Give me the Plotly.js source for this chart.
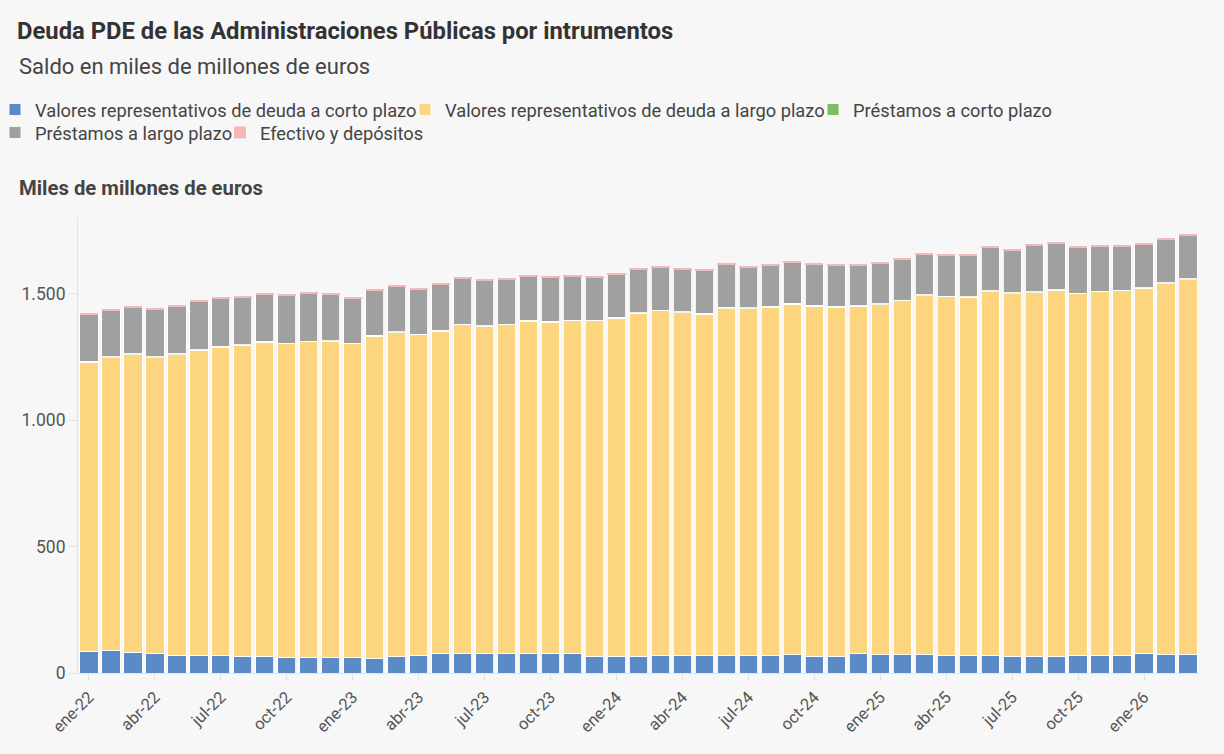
<!DOCTYPE html>
<html>
<head>
<meta charset="utf-8">
<script src="https://cdn.plot.ly/plotly-3.0.1.min.js"></script>
<style>
  html, body { margin: 0; padding: 0; background: #f7f7f7; }
  #chart { width: 1224px; height: 754px; }
</style>
</head>
<body>
<div id="chart"></div>
<script>
// Categories (monthly, ene-22 .. mar-26)
const months = [
  'ene-22','feb-22','mar-22','abr-22','may-22','jun-22','jul-22','ago-22','sep-22','oct-22','nov-22','dic-22',
  'ene-23','feb-23','mar-23','abr-23','may-23','jun-23','jul-23','ago-23','sep-23','oct-23','nov-23','dic-23',
  'ene-24','feb-24','mar-24','abr-24','may-24','jun-24','jul-24','ago-24','sep-24','oct-24','nov-24','dic-24',
  'ene-25','feb-25','mar-25','abr-25','may-25','jun-25','jul-25','ago-25','sep-25','oct-25','nov-25','dic-25',
  'ene-26','feb-26','mar-26'
];
const tickLabels = ['ene-22','abr-22','jul-22','oct-22','ene-23','abr-23','jul-23','oct-23','ene-24','abr-24',
  'jul-24','oct-24','ene-25','abr-25','jul-25','oct-25','ene-26'];
const yTicks = [0, 500, 1000, 1500];

// Valores representativos de deuda a corto plazo
const valoresCorto = [86,90,82,77,71,70,69,67,66,63,62,61,60,57,65,71,77,77,77,77,77,79,77,67,67,67,69,69,69,69,
  69,69,72,66,66,77,73,73,74,71,71,71,66,66,65,70,70,71,77,74,74];
// Valores representativos de deuda a largo plazo
const valoresLargo = [1144,1158,1177,1171,1188,1206,1220,1229,1243,1239,1248,1251,1242,1276,1282,1267,1275,1300,
  1294,1300,1315,1309,1316,1326,1337,1356,1364,1357,1351,1372,1372,1378,1387,1385,1381,1373,1384,1399,1419,1417,
  1415,1438,1435,1439,1449,1430,1438,1441,1445,1466,1482];
// Préstamos a corto plazo
const prestamosCorto = [3,3,3,3,3,3,3,3,3,3,3,3,3,3,3,3,3,3,3,3,3,3,3,3,3,3,3,3,3,5,3,3,3,3,3,3,3,3,3,3,3,3,3,3,3,
  3,3,3,3,3,3];
// Préstamos a largo plazo
const prestamosLargo = [184,184,185,188,189,192,189,187,185,187,187,181,178,177,179,177,181,182,177,177,175,172,171,
  170,168,169,168,167,168,170,162,162,163,163,162,158,160,161,161,161,163,170,166,182,182,180,177,173,171,171,170];
// Efectivo y depósitos
const efectivo = [5,5,5,5,5,5,5,5,5,5,5,5,5,5,5,5,5,5,5,5,5,5,5,5,5,5,5,5,5,5,5,5,5,5,5,5,5,5,5,5,5,5,5,5,5,5,5,5,
  5,5,5];

const seriesNames = ['Valores representativos de deuda a corto plazo','Valores representativos de deuda a largo plazo',
  'Préstamos a corto plazo','Préstamos a largo plazo','Efectivo y depósitos'];
const seriesValues = [valoresCorto, valoresLargo, prestamosCorto, prestamosLargo, efectivo];
const seriesColors = ['#5b8bc7','#fcd57e','#7cbf5f','#a0a0a0','#f4b8b8'];
const seriesLegend = ['legend','legend2','legend3','legend4','legend5'];
const seriesLineWidth = [1, 1, 1, 1, 0];

const traces = seriesValues.map((vals, i) => ({
  type: 'bar',
  name: seriesNames[i],
  legend: seriesLegend[i],
  x: months,
  y: vals,
  marker: { color: seriesColors[i], line: { color: 'rgba(255,255,255,0.85)', width: seriesLineWidth[i] } },
  hoverinfo: 'x+y+name'
}));

const FONT = 'Roboto, "Noto Sans", Arial, sans-serif';
const PL = 78, PT = 218, PW = 1121, PH = 455.3;
const px = v => (v - PL) / PW;        // page x -> paper x
const py = v => 1 + (PT - v) / PH;    // page y -> paper y

function legendBox(xPage, yTop) {
  return {
    orientation: 'h',
    xref: 'paper', yref: 'paper',
    x: px(xPage), xanchor: 'left',
    y: py(yTop), yanchor: 'top',
    font: { family: FONT, size: 18.3, color: '#444' },
    itemclick: false,
    itemdoubleclick: false,
    traceorder: 'normal',
    itemwidth: 30,
    bgcolor: 'rgba(0,0,0,0)'
  };
}

const layout = {
  width: 1224,
  height: 754,
  paper_bgcolor: '#f7f7f7',
  plot_bgcolor: '#f7f7f7',
  font: { family: FONT, color: '#444' },
  barmode: 'stack',
  bargap: 0.17,
  margin: { l: PL, r: 25, t: PT, b: 81, pad: 0, autoexpand: false },
  title: {
    text: '<b>Deuda PDE de las Administraciones Públicas por intrumentos</b>',
    font: { family: FONT, size: 23.8, color: '#333' },
    x: 17 / 1224, xref: 'container', xanchor: 'left',
    y: 1 - 31 / 754, yref: 'container', yanchor: 'middle'
  },
  annotations: [
    {
      text: 'Saldo en miles de millones de euros',
      xref: 'paper', yref: 'paper',
      x: px(17), xanchor: 'left',
      y: py(66), yanchor: 'middle',
      showarrow: false,
      font: { family: FONT, size: 22, color: '#444' }
    },
    {
      text: '<b>Miles de millones de euros</b>',
      xref: 'paper', yref: 'paper',
      x: px(17), xanchor: 'left',
      y: py(188), yanchor: 'middle',
      showarrow: false,
      font: { family: FONT, size: 20.3, color: '#444' }
    }
  ],
  legend: legendBox(-5, 91),
  legend2: legendBox(405, 91),
  legend3: legendBox(813, 91),
  legend4: legendBox(-5, 114),
  legend5: legendBox(220, 114),
  xaxis: {
    type: 'category',
    tickmode: 'array',
    tickvals: tickLabels,
    ticktext: tickLabels,
    tickangle: -45,
    ticks: 'outside',
    ticklen: 7,
    tickcolor: '#e2e2e2',
    showline: true,
    linecolor: '#e6e6e6',
    showgrid: false,
    zeroline: false,
    automargin: false,
    tickfont: { family: FONT, size: 16.5, color: '#555' },
    fixedrange: true
  },
  yaxis: {
    range: [0, 1800],
    tickmode: 'array',
    tickvals: yTicks,
    separatethousands: true,
    ticks: 'outside',
    ticklen: 8,
    tickcolor: '#e2e2e2',
    showline: true,
    linecolor: '#e2e2e2',
    showgrid: false,
    zeroline: false,
    automargin: false,
    tickfont: { family: FONT, size: 17.5, color: '#555' },
    fixedrange: true
  },
  separators: ',.',
  showlegend: true
};

Plotly.newPlot('chart', traces, layout, { displayModeBar: false, responsive: false });
</script>
</body>
</html>
